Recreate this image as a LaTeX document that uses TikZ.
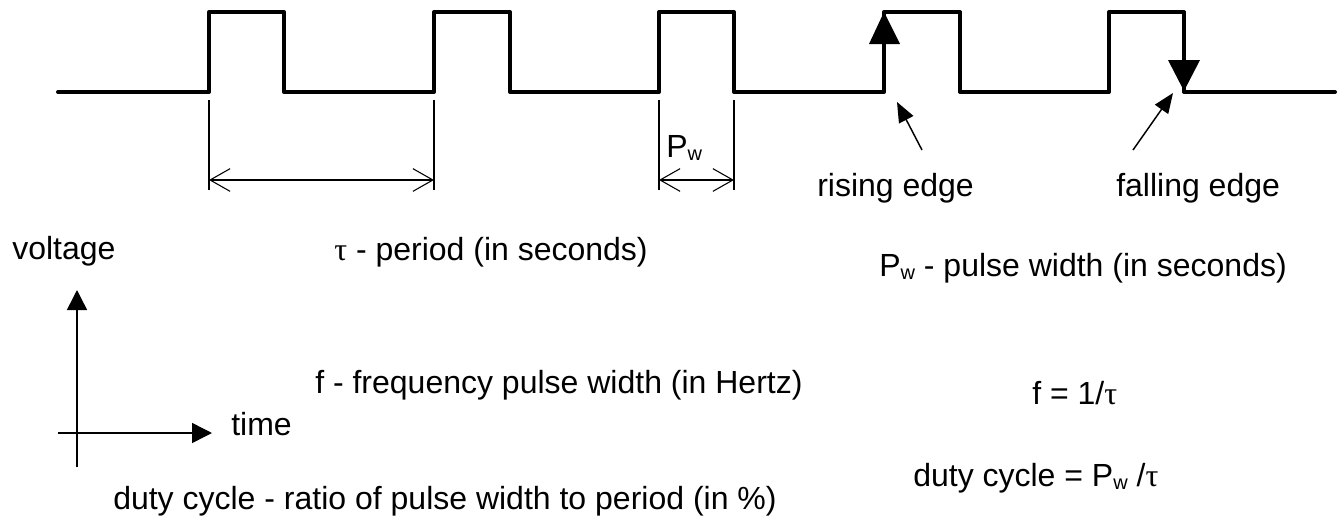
\documentclass[tikz,border=0pt]{standalone}
\usepackage{fontspec}
\setmainfont{Liberation Sans}
\newfontfamily\taufont{Liberation Serif}
\usetikzlibrary{arrows.meta}
\newcommand{\tauc}{{\taufont τ}}
\newcommand{\wsub}{\raisebox{-0.12em}{\fontsize{15}{15}\selectfont w}}
\tikzset{
  wave/.style={line width=3pt, line join=round, line cap=round},
  thinline/.style={line width=0.8pt},
  dimarrow/.style={line width=0.8pt, {Straight Barb[length=15pt,width=17pt,line width=0.8pt]}-{Straight Barb[length=15pt,width=17pt,line width=0.8pt]}},
  axisarrow/.style={line width=1.1pt, -{Triangle[length=15pt,width=15pt]}},
  pointer/.style={line width=1.1pt, -{Triangle[length=15pt,width=12pt]}},
  lbl/.style={inner sep=0pt, anchor=base west, font=\fontsize{24}{28}\selectfont}
}
\begin{document}
\begin{tikzpicture}[x=0.75pt,y=-0.75pt]
\useasboundingbox (0,0) rectangle (1340,525);
% waveform
\draw[wave] (58,92) -- (209,92) -- (209,12) -- (284,12) -- (284,92)
  -- (434,92) -- (434,12) -- (510,12) -- (510,92)
  -- (659,92) -- (659,12) -- (734,12) -- (734,92)
  -- (884,92) -- (884,12) -- (960,12) -- (960,92)
  -- (1109,92) -- (1109,12) -- (1184,12) -- (1184,92) -- (1335,92);
\fill (869,44) -- (884,12) -- (900,44) -- cycle;
\fill (1168,60) -- (1184,91) -- (1200,60) -- cycle;
% extension lines
\coordinate (e1t) at (209,100); \coordinate (e1b) at (209,190);
\coordinate (e2t) at (434,100); \coordinate (e2b) at (434,190);
\coordinate (e3t) at (659,100); \coordinate (e3b) at (659,190);
\coordinate (e4t) at (734,100); \coordinate (e4b) at (734,190);
\draw[thinline] (e1t) -- (e1b);
\draw[thinline] (e2t) -- (e2b);
\draw[thinline] (e3t) -- (e3b);
\draw[thinline] (e4t) -- (e4b);
\coordinate (d1a) at (209,180); \coordinate (d1b) at (434,180);
\coordinate (d2a) at (659,180); \coordinate (d2b) at (734,180);
\draw[dimarrow] (d1a) -- (d1b);
\draw[dimarrow] (d2a) -- (d2b);
\node[lbl] (pwl) at (666,157) {P\wsub};
% edge pointers
\coordinate (rs) at (922,150); \coordinate (rt) at (897,102);
\coordinate (fs) at (1133,150); \coordinate (ft) at (1173,93);
\draw[pointer] (rs) -- (rt);
\draw[pointer] (fs) -- (ft);
\node[lbl] (rise) at (817,196) {rising edge};
\node[lbl] (fall) at (1116,196) {falling edge};
% axes
\coordinate (vb) at (77,467); \coordinate (vt) at (77,290);
\coordinate (hl) at (58,433); \coordinate (hr) at (212,433);
\draw[axisarrow] (vb) -- (vt);
\draw[axisarrow] (hl) -- (hr);
% texts
\node[lbl] (volt) at (12,259) {voltage};
\node[lbl] (time) at (231,435) {time};
\node[lbl] (per) at (334,260) {\tauc\ - period (in seconds)};
\node[lbl] (freq) at (315,393) {f - frequency pulse width (in Hertz)};
\node[lbl] (duty) at (113,509) {duty cycle - ratio of pulse width to period (in \%)};
\node[lbl] (pw) at (879,276) {P\wsub\ - pulse width (in seconds)};
\node[lbl] (feq) at (1032,404) {f = 1/\tauc};
\node[lbl] (deq) at (913,486) {duty cycle = P\wsub\ /\tauc};
\end{tikzpicture}
\end{document}
